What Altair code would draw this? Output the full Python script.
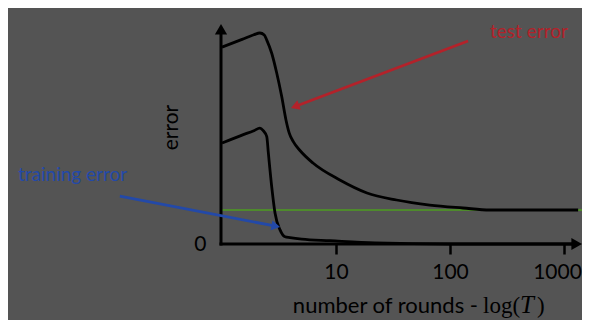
import math
import altair as alt
import pandas as pd

# ---------------- data ----------------
rounds_test = [1.0, 1.5, 1.9, 2.15, 2.35, 2.47, 2.73, 3.02, 3.34, 3.64, 3.89, 4.22,
               4.83, 6.28, 10.8, 18.7, 34, 66.5, 130, 224, 1330]
test_error = [0.895, 0.93, 0.951, 0.959, 0.95, 0.927, 0.867, 0.777, 0.67, 0.564, 0.504,
              0.465, 0.425, 0.368, 0.291, 0.232, 0.2, 0.177, 0.1636, 0.1545, 0.1545]

rounds_train = [1.0, 1.5, 1.9, 2.15, 2.30, 2.47, 2.55, 2.73, 2.92, 3.23, 3.57, 3.95,
                5.0, 8.86, 22, 100, 1330]
train_error = [0.459, 0.495, 0.515, 0.527, 0.515, 0.488, 0.414, 0.26, 0.14, 0.064, 0.033,
               0.029, 0.022, 0.015, 0.005, 0.0, 0.0]

baseline_rounds = [0.98, 1438]
baseline_error = [0.1545, 0.1545]

arrow_labels = ["test error", "training error"]
arrow_from_rounds = [144, 0.127]
arrow_from_error = [0.923, 0.218]
arrow_to_rounds = [4.03, 3.23]
arrow_to_error = [0.618, 0.077]
arrow_colors = ["#b3222a", "#2349a8"]

x_ticks = [10, 100, 1000]
y_ticks = [0]
x_domain = [0.98, 1438]
y_domain = [0, 1]

# ---------------- layout / style ----------------
W, H = 361, 220
BG = "#545454"
FONT = "Lato"
SERIF = "Liberation Serif"
HEAD = 100  # arrowhead symbol size


def px(t):
    a, b = math.log10(x_domain[0]), math.log10(x_domain[1])
    return (math.log10(t) - a) / (b - a) * W


def inv_px(p):
    a, b = math.log10(x_domain[0]), math.log10(x_domain[1])
    return 10 ** (a + p / W * (b - a))


def py(e):
    return H * (1 - (e - y_domain[0]) / (y_domain[1] - y_domain[0]))


def inv_py(p):
    return y_domain[0] + (1 - p / H) * (y_domain[1] - y_domain[0])


# arrow geometry (head placed at the tip, line stops at head centre)
rows = []
h = math.sqrt(HEAD) / 2 * math.sqrt(3) / 2
for lab, fx, fy, tx, ty, col in zip(arrow_labels, arrow_from_rounds, arrow_from_error,
                                    arrow_to_rounds, arrow_to_error, arrow_colors):
    x0, y0, x1, y1 = px(fx), py(fy), px(tx), py(ty)
    dx, dy = x1 - x0, y1 - y0
    n = math.hypot(dx, dy)
    ux, uy = dx / n, dy / n
    cx, cy = x1 - ux * h, y1 - uy * h
    ang = math.degrees(math.atan2(dx, -dy)) % 360
    rows.append({"label": lab, "x0": fx, "y0": fy, "xe": inv_px(cx), "ye": inv_py(cy),
                 "color": col, "angle": ang})
arrows = pd.DataFrame(rows)

test_df = pd.DataFrame({"T": rounds_test, "err": test_error})
train_df = pd.DataFrame({"T": rounds_train, "err": train_error})
base_df = pd.DataFrame({"T": baseline_rounds, "err": baseline_error})
one = pd.DataFrame({"a": [0]})

x_axis = alt.Axis(values=x_ticks, format="d", domain=False, grid=False, ticks=True,
                  tickSize=10, tickWidth=2.5, tickColor="black", labelFont=FONT,
                  labelFontSize=21, labelColor="black", labelPadding=7, title=None,
                  labelFlush=False, labelOverlap=False,
                  labelOffset={"condition": {"test": "datum.value == 1000", "value": -7},
                               "value": 0})
y_axis = alt.Axis(values=y_ticks, format="d", domain=False, grid=False, ticks=False,
                  labelPadding=15, labelFont=FONT, labelFontSize=21, labelColor="black",
                  title=None)
xs = alt.Scale(type="log", domain=x_domain, nice=False)
ys = alt.Scale(domain=y_domain, nice=False, zero=False)


def X(f="T"):
    return alt.X(f"{f}:Q", scale=xs, axis=x_axis)


def Y(f="err"):
    return alt.Y(f"{f}:Q", scale=ys, axis=y_axis)


baseline = alt.Chart(base_df).mark_line(color="#4e8a2c", strokeWidth=2.2).encode(x=X(), y=Y())
test = alt.Chart(test_df).mark_line(color="black", strokeWidth=2.8,
                                     interpolate="monotone").encode(x=X(), y=Y())
train = alt.Chart(train_df).mark_line(color="black", strokeWidth=2.8,
                                       interpolate="monotone").encode(x=X(), y=Y())

# axis lines with arrowheads
AH = 150
ah = math.sqrt(AH) / 2 * math.sqrt(3) / 2
y_axis_line = alt.Chart(one).mark_rule(color="black", strokeWidth=3).encode(
    x=alt.value(0), y=alt.value(H + 1.5), y2=alt.value(ah))
y_axis_head = alt.Chart(one).mark_point(shape="triangle-up", filled=True, color="black",
                                        opacity=1, size=AH).encode(
    x=alt.value(0), y=alt.value(ah))
x_axis_line = alt.Chart(one).mark_rule(color="black", strokeWidth=3).encode(
    x=alt.value(-1.5), x2=alt.value(W - ah), y=alt.value(H))
x_axis_head = alt.Chart(one).mark_point(shape="triangle-right", filled=True, color="black",
                                        opacity=1, size=AH).encode(
    x=alt.value(W - ah), y=alt.value(H))

arrow_lines = alt.Chart(arrows).mark_rule(strokeWidth=2.8).encode(
    x=alt.X("x0:Q", scale=xs, axis=x_axis), y=alt.Y("y0:Q", scale=ys, axis=y_axis),
    x2="xe:Q", y2="ye:Q", color=alt.Color("color:N", scale=None))
arrow_heads = alt.Chart(arrows).mark_point(shape="triangle-up", filled=True, opacity=1,
                                           size=HEAD).encode(
    x=alt.X("xe:Q", scale=xs, axis=x_axis), y=alt.Y("ye:Q", scale=ys, axis=y_axis),
    angle=alt.Angle("angle:Q", scale=None), color=alt.Color("color:N", scale=None))


def txt(s, x, y, size, color="black", font=FONT, align="left", baseline="middle",
        angle=0, style="normal"):
    kw = dict(align=align, baseline=baseline, fontSize=size, font=font, color=color,
              fontStyle=style)
    if angle:
        kw["angle"] = angle
    return alt.Chart(one).mark_text(**kw).encode(x=alt.value(x), y=alt.value(y),
                                                 text=alt.value(s))


texts = [
    txt("test error", 269, 8, 19, arrow_colors[0]),
    txt("training error", -203, 151, 19, arrow_colors[1]),
    txt("error", -49.5, 103.5, 21, align="center", angle=270),
    txt("number of rounds -", 257, 289, 22, align="right", baseline="alphabetic"),
    txt("log(", 262, 289, 23, font=SERIF, baseline="alphabetic"),
    txt("T", 299, 289, 25, font=SERIF, baseline="alphabetic", style="italic"),
    txt(")", 316, 289, 23, font=SERIF, baseline="alphabetic"),
]

chart = alt.layer(
    baseline, test, train, y_axis_line, y_axis_head, x_axis_line, x_axis_head,
    arrow_lines, arrow_heads, *texts
).properties(
    width=W, height=H, autosize="none",
    padding={"left": 213, "top": 16, "right": 0, "bottom": 76},
    background=BG,
).configure_view(stroke="transparent")

chart.save("out.html", embed_options={"renderer": "svg", "actions": False})
